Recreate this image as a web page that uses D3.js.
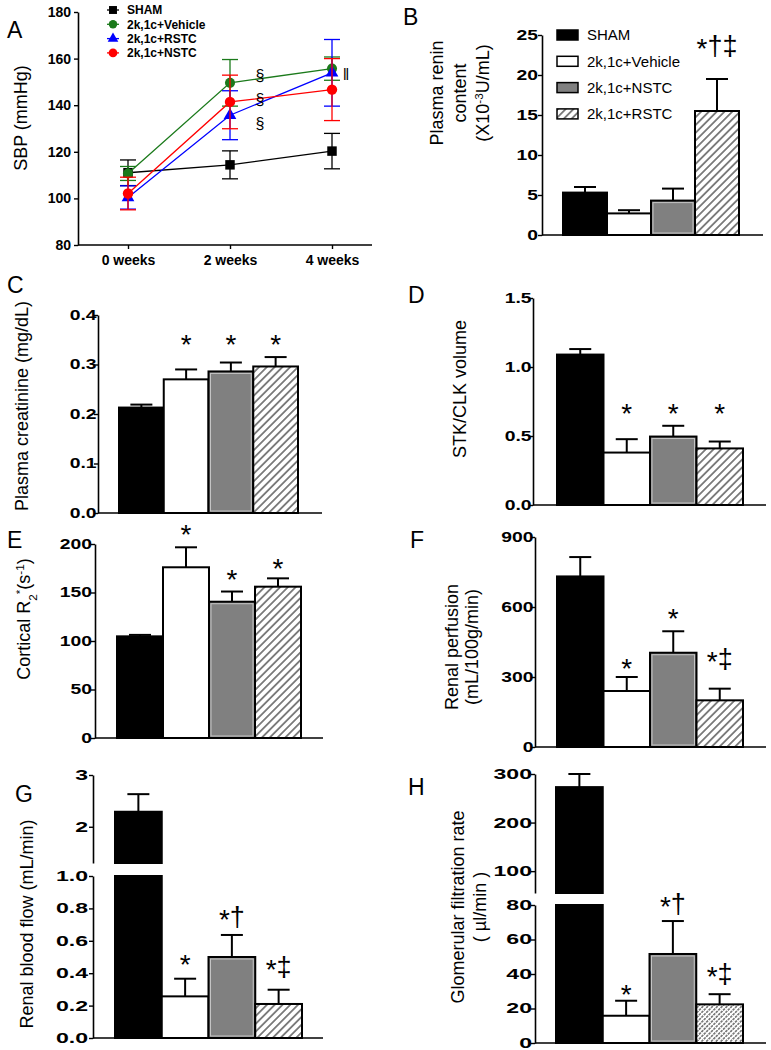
<!DOCTYPE html>
<html>
<head>
<meta charset="utf-8">
<script src="https://cdn.jsdelivr.net/npm/d3@7"></script>
<style>
  body { margin: 0; background: #fff; }
  text { font-family: "Liberation Sans", Arial, sans-serif; fill: #000; }
  .tick text { font-weight: bold; font-size: 14px; }
</style>
</head>
<body>
<svg id="fig" width="771" height="1050"></svg>
<script>
// ---- data ----
var groups = ['SHAM', '2k,1c+Vehicle', '2k,1c+NSTC', '2k,1c+RSTC']
var weeks = ['0 weeks', '2 weeks', '4 weeks']

// A: systolic blood pressure (mmHg)
var sbpNames = ['SHAM', '2k,1c+Vehicle', '2k,1c+RSTC', '2k,1c+NSTC']
var sbpSham = [111, 114.4, 120.3]
var sbpShamErr = [5.5, 6, 7.6]
var sbpVehicle = [110.7, 149.6, 155.7]
var sbpVehicleErr = [3, 10, 5]
var sbpRstc = [100.4, 135.7, 153.9]
var sbpRstcErr = [5, 10.5, 14.3]
var sbpNstc = [102.1, 141.4, 146.7]
var sbpNstcErr = [7, 11.5, 13.3]
var sbpMarkText = ['§', '§', '§', '‖']
var sbpMarkWeek = ['2 weeks', '2 weeks', '2 weeks', '4 weeks']
var sbpMarkVal = [152.9, 142.6, 132.3, 153.3]

// B: plasma renin content
var renin = [5.3, 2.7, 4.3, 15.5]
var reninErr = [0.7, 0.4, 1.5, 4.0]
var reninMarks = ['', '', '', '*†‡']
var reninMarkVal = [null, null, null, 24.1]

// C: plasma creatinine
var creat = [0.213, 0.27, 0.286, 0.296]
var creatErr = [0.006, 0.02, 0.018, 0.019]
var creatMarks = ['', '*', '*', '*']
var creatMarkVal = [null, 0.354, 0.354, 0.354]

// D: STK/CLK volume
var stk = [1.09, 0.38, 0.496, 0.41]
var stkErr = [0.04, 0.097, 0.078, 0.05]
var stkMarks = ['', '*', '*', '*']
var stkMarkVal = [null, 0.71, 0.71, 0.71]

// E: cortical R2*
var r2 = [104.8, 176, 140.5, 156]
var r2Err = [1.5, 20.6, 10.5, 8.6]
var r2Marks = ['', '*', '*', '*']
var r2MarkVal = [null, 216, 170, 181]

// F: renal perfusion
var perf = [731, 240, 404, 200]
var perfErr = [83, 60, 92, 50]
var perfMarks = ['', '*', '*', '*‡']
var perfMarkVal = [null, 364, 579, 394]

// G: renal blood flow
var rbf = [2.29, 0.257, 0.5, 0.21]
var rbfErr = [0.34, 0.109, 0.136, 0.088]
var rbfMarks = ['', '*', '*†', '*‡']
var rbfMarkVal = [null, 0.494, 0.772, 0.463]

// H: glomerular filtration rate
var gfr = [273, 15.8, 51.6, 22.4]
var gfrErr = [27, 8.7, 19.1, 5.9]
var gfrMarks = ['', '*', '*†', '*‡']
var gfrMarkVal = [null, 31.9, 82.9, 42.3]

// ---- drawing ----
var svg = d3.select('#fig')
svg.append('rect').attr('width', 771).attr('height', 1050).attr('fill', '#fff')
var defs = svg.append('defs')

function hatch (id, gap, dash, color) {
  var p = defs.append('pattern').attr('id', id)
    .attr('patternUnits', 'userSpaceOnUse')
    .attr('width', gap).attr('height', gap)
    .attr('patternTransform', 'rotate(45)')
  p.append('rect').attr('width', gap).attr('height', gap).attr('fill', '#fff')
  p.append('line')
    .attr('x1', gap / 2).attr('y1', 0).attr('x2', gap / 2).attr('y2', gap)
    .attr('stroke', color).attr('stroke-width', 1.1)
    .attr('stroke-dasharray', dash)
}
hatch('hatch', 5.5, null, '#222')
hatch('hatchDense', 3.4, '2.6,1.1', '#333')

function fillFor (i, dense) {
  return ['#000', '#fff', '#808080', dense ? 'url(#hatchDense)' : 'url(#hatch)'][i]
}

// text with ^{sup} and _{sub} markup
function richText (sel, str) {
  str.split(/(\^\{[^}]*\}|_\{[^}]*\})/).forEach(function (part) {
    if (!part) return
    if (part[0] === '^' || part[0] === '_') {
      sel.append('tspan')
        .attr('baseline-shift', part[0] === '^' ? 'super' : 'sub')
        .attr('font-size', '0.65em')
        .text(part.slice(2, -1))
    } else {
      sel.append('tspan').text(part)
    }
  })
}

function yLabel (lines, cx, cy, gap) {
  var g = svg.append('g').attr('transform', 'translate(' + cx + ',' + cy + ') rotate(-90)')
  var off = -(lines.length - 1) * gap / 2
  lines.forEach(function (l, i) {
    var t = g.append('text')
      .attr('text-anchor', 'middle')
      .attr('x', 0).attr('y', off + i * gap)
      .attr('dy', '0.35em')
      .attr('font-size', 18)
    richText(t, l)
  })
}

function letter (t, x, y) {
  svg.append('text').attr('x', x).attr('y', y).attr('font-size', 23).text(t)
}

function styleAxis (g) {
  g.select('.domain').attr('stroke-width', 1.6)
  g.selectAll('.tick line').attr('stroke-width', 1.4)
}

// ---- panel A: line chart ----
var xA = d3.scalePoint().domain(weeks).range([128, 332])
var yA = d3.scaleLinear().domain([80, 180]).range([245, 12])

svg.append('g').attr('transform', 'translate(78,0)')
  .call(d3.axisLeft(yA).tickValues(d3.range(80, 181, 20)).tickSize(4).tickSizeOuter(0))
  .call(styleAxis)
svg.append('g').attr('transform', 'translate(0,245)')
  .call(d3.axisBottom(xA).tickSize(4).tickPadding(6))
  .call(function (g) { g.select('.domain').remove() })
  .call(styleAxis)
svg.append('line').attr('x1', 78).attr('x2', 372).attr('y1', 245).attr('y2', 245)
  .attr('stroke', '#000').attr('stroke-width', 1.6)

var sbpSeries = [
  { vals: sbpSham, errs: sbpShamErr, color: '#000', shape: d3.symbolSquare, size: 90 },
  { vals: sbpVehicle, errs: sbpVehicleErr, color: '#1b7a1b', shape: d3.symbolCircle, size: 80 },
  { vals: sbpRstc, errs: sbpRstcErr, color: '#0000ff', shape: d3.symbolTriangle, size: 70 },
  { vals: sbpNstc, errs: sbpNstcErr, color: '#ff0000', shape: d3.symbolCircle, size: 85 }
]
var lineA = d3.line().x(function (d, i) { return xA(weeks[i]) }).y(function (d) { return yA(d) })

sbpSeries.forEach(function (s) {
  var g = svg.append('g')
  g.append('path').datum(s.vals)
    .attr('fill', 'none').attr('stroke', s.color).attr('stroke-width', 1.3)
    .attr('d', lineA)
  s.vals.forEach(function (v, i) {
    var cx = xA(weeks[i])
    var lo = yA(v - s.errs[i])
    var hi = yA(v + s.errs[i])
    g.append('line').attr('x1', cx).attr('x2', cx).attr('y1', lo).attr('y2', hi)
      .attr('stroke', s.color).attr('stroke-width', 1.3)
    ;[lo, hi].forEach(function (yy) {
      g.append('line').attr('x1', cx - 8).attr('x2', cx + 8).attr('y1', yy).attr('y2', yy)
        .attr('stroke', s.color).attr('stroke-width', 1.3)
    })
    g.append('path')
      .attr('transform', 'translate(' + cx + ',' + yA(v) + ')')
      .attr('d', d3.symbol().type(s.shape).size(s.size)())
      .attr('fill', s.color)
  })
})

sbpMarkText.forEach(function (t, i) {
  svg.append('text')
    .attr('x', xA(sbpMarkWeek[i]) + (t === '§' ? 30 : 14))
    .attr('y', yA(sbpMarkVal[i]))
    .attr('dy', '0.35em')
    .attr('text-anchor', 'middle')
    .attr('font-size', 16)
    .text(t)
})

// legend A
var legA = svg.append('g').attr('transform', 'translate(113,10)')
sbpNames.forEach(function (n, i) {
  var s = sbpSeries[i]
  var row = legA.append('g').attr('transform', 'translate(0,' + (i * 14.3) + ')')
  row.append('line').attr('x1', -6).attr('x2', 6).attr('stroke', s.color).attr('stroke-width', 1.3)
  row.append('path').attr('d', d3.symbol().type(s.shape).size(s.size * 0.7)()).attr('fill', s.color)
  row.append('text').attr('x', 14).attr('dy', '0.35em')
    .attr('font-size', 12).attr('font-weight', 'bold').text(n)
})

yLabel(['SBP (mmHg)'], 21, 118, 0)
letter('A', 7, 38)

// ---- bar panels ----
function barPanel (o) {
  var xb = d3.scaleBand().domain(groups).range(o.band).paddingInner(0).paddingOuter(0)
  var segs = o.segments.map(function (s) {
    return {
      s: s,
      y: d3.scaleLinear().domain(s.domain).range(s.range)
    }
  })
  var base = segs[0].y
  var g = svg.append('g')

  // bars
  segs.forEach(function (sg) {
    var lo = sg.s.domain[0]
    var hi = sg.s.domain[1]
    o.values.forEach(function (v, i) {
      if (v <= lo) return
      var top = sg.y(Math.min(v, hi))
      var bottom = sg.y(lo)
      g.append('rect')
        .attr('x', xb(groups[i])).attr('y', top)
        .attr('width', xb.bandwidth()).attr('height', bottom - top)
        .attr('fill', fillFor(i, o.dense))
        .attr('stroke', '#000').attr('stroke-width', 2)
      if (i === 2) {
        g.append('rect')
          .attr('x', xb(groups[i]) + 2).attr('y', top + 2)
          .attr('width', xb.bandwidth() - 4).attr('height', Math.max(0, bottom - top - 4))
          .attr('fill', 'none').attr('stroke', '#c4c4c4').attr('stroke-width', 1)
      }
    })
  })

  // error bars (upward only)
  o.values.forEach(function (v, i) {
    var e = v + o.errs[i]
    var sg = segs.filter(function (s) { return v >= s.s.domain[0] && e <= s.s.domain[1] + 1e-9 })[0] || segs[0]
    var cx = xb(groups[i]) + xb.bandwidth() / 2
    g.append('line').attr('x1', cx).attr('x2', cx).attr('y1', sg.y(v)).attr('y2', sg.y(e))
      .attr('stroke', '#000').attr('stroke-width', 2)
    g.append('line').attr('x1', cx - 11).attr('x2', cx + 11).attr('y1', sg.y(e)).attr('y2', sg.y(e))
      .attr('stroke', '#000').attr('stroke-width', 2)
  })

  // axes (tick labels in the figure are squat and wide)
  segs.forEach(function (sg) {
    var fs = o.tickFont || 12
    var sx = o.tickStretch || 1.38
    g.append('g').attr('transform', 'translate(' + o.axisX + ',0)')
      .call(d3.axisLeft(sg.y).tickValues(sg.s.ticks).tickFormat(d3.format(sg.s.fmt))
        .tickSize(4).tickSizeOuter(0))
      .call(styleAxis)
      .call(function (ax) {
        ax.selectAll('.tick text')
          .attr('font-size', fs)
          .attr('x', -(o.tickGap || 2) / sx)
          .attr('transform', 'scale(' + sx + ',1)')
      })
  })
  g.append('line')
    .attr('x1', o.axisX).attr('x2', o.axisEnd)
    .attr('y1', base(0)).attr('y2', base(0))
    .attr('stroke', '#000').attr('stroke-width', 1.6)

  // significance marks: large asterisk, daggers beside it
  o.marks.forEach(function (m, i) {
    if (!m) return
    var t = g.append('text')
      .attr('x', xb(groups[i]) + xb.bandwidth() / 2)
      .attr('y', base(o.markVals[i]) + 16)
      .attr('text-anchor', 'middle')
    var first = true
    m.split('').forEach(function (ch) {
      if (ch === '*') {
        t.append('tspan').attr('font-size', 28).text(ch)
      } else {
        t.append('tspan').attr('font-size', 27).attr('dy', first ? -3 : 0).text(ch)
        first = false
      }
    })
  })

  yLabel(o.label, o.labelX, o.labelY, o.labelGap || 0)
  letter(o.letter, o.letterX, o.letterY)
}

barPanel({
  values: renin, errs: reninErr, marks: reninMarks, markVals: reninMarkVal,
  axisX: 542, band: [563, 739], axisEnd: 763, tickGap: 4,
  segments: [{ domain: [0, 25], range: [235, 35], ticks: d3.range(0, 26, 5), fmt: 'd' }],
  label: ['Plasma renin', 'content', '(X10^{-3}U/mL)'], labelX: 460, labelY: 93, labelGap: 23,
  letter: 'B', letterX: 403, letterY: 25
})

// legend B
var legB = svg.append('g').attr('transform', 'translate(557,35)')
groups.forEach(function (n, i) {
  var row = legB.append('g').attr('transform', 'translate(0,' + (i * 26.3) + ')')
  row.append('rect').attr('x', 0).attr('y', -5).attr('width', 21).attr('height', 10)
    .attr('fill', fillFor(i)).attr('stroke', '#000').attr('stroke-width', 1.5)
  row.append('text').attr('x', 30).attr('dy', '0.35em').attr('font-size', 15).text(n)
})

barPanel({
  values: creat, errs: creatErr, marks: creatMarks, markVals: creatMarkVal,
  axisX: 98, band: [119, 298], axisEnd: 322, tickGap: 1.5,
  segments: [{ domain: [0, 0.4], range: [513, 315], ticks: [0, 0.1, 0.2, 0.3, 0.4], fmt: '.1f' }],
  label: ['Plasma creatinine (mg/dL)'], labelX: 22, labelY: 406,
  letter: 'C', letterX: 7, letterY: 293
})

barPanel({
  values: stk, errs: stkErr, marks: stkMarks, markVals: stkMarkVal,
  axisX: 533, band: [557, 743], axisEnd: 766, tickGap: 1.5,
  segments: [{ domain: [0, 1.5], range: [505, 298], ticks: [0, 0.5, 1, 1.5], fmt: '.1f' }],
  label: ['STK/CLK volume'], labelX: 460, labelY: 389,
  letter: 'D', letterX: 408, letterY: 303
})

barPanel({
  values: r2, errs: r2Err, marks: r2Marks, markVals: r2MarkVal,
  axisX: 95, band: [117, 301], axisEnd: 323, tickGap: 3,
  segments: [{ domain: [0, 200], range: [738, 544], ticks: d3.range(0, 201, 50), fmt: 'd' }],
  label: ['Cortical R_{2}^{*}(s^{-1})'], labelX: 24, labelY: 619,
  letter: 'E', letterX: 7, letterY: 548
})

barPanel({
  values: perf, errs: perfErr, marks: perfMarks, markVals: perfMarkVal,
  axisX: 535, band: [557, 743], axisEnd: 766, tickGap: 1.5,
  segments: [{ domain: [0, 900], range: [747, 537], ticks: [0, 300, 600, 900], fmt: 'd' }],
  label: ['Renal perfusion', '(mL/100g/min)'], labelX: 462, labelY: 647, labelGap: 20,
  letter: 'F', letterX: 410, letterY: 548
})

barPanel({
  values: rbf, errs: rbfErr, marks: rbfMarks, markVals: rbfMarkVal,
  axisX: 93, band: [115, 302], axisEnd: 323, tickFont: 10, tickStretch: 1.65, tickGap: 5,
  segments: [
    { domain: [0, 1], range: [1038, 876], ticks: [0, 0.2, 0.4, 0.6, 0.8, 1.0], fmt: '.1f' },
    { domain: [1.3, 3], range: [863, 775], ticks: [2, 3], fmt: 'd' }
  ],
  label: ['Renal blood flow (mL/min)'], labelX: 27, labelY: 924,
  letter: 'G', letterX: 15, letterY: 802
})

barPanel({
  values: gfr, errs: gfrErr, marks: gfrMarks, markVals: gfrMarkVal, dense: true,
  axisX: 535, band: [556, 743], axisEnd: 766, tickFont: 10, tickStretch: 1.65, tickGap: 3,
  segments: [
    { domain: [0, 80], range: [1043, 905], ticks: [0, 20, 40, 60, 80], fmt: 'd' },
    { domain: [55, 300], range: [893, 774], ticks: [100, 200, 300], fmt: 'd' }
  ],
  label: ['Glomerular filtration rate', '( µl/min )'], labelX: 469, labelY: 907, labelGap: 22,
  letter: 'H', letterX: 408, letterY: 795
})
</script>
</body>
</html>
